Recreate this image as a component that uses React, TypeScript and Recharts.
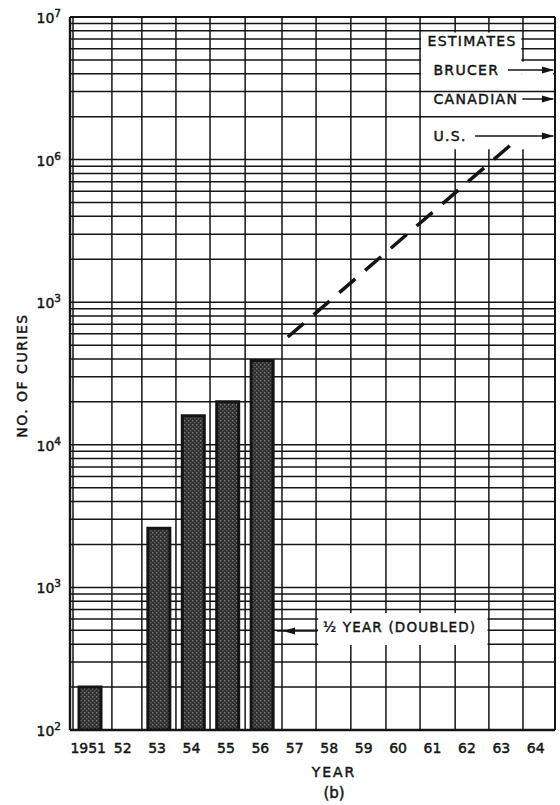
import React from 'react';
import {
  ComposedChart,
  Bar,
  Line,
  XAxis,
  YAxis,
  CartesianGrid,
  ReferenceArea,
  ReferenceLine,
  ReferenceDot,
} from 'recharts';

// ---------- data ----------
const years = ['1951', '52', '53', '54', '55', '56', '57', '58', '59', '60', '61', '62', '63', '64'];
const curies: (number | null)[] = [200, null, 2600, 16000, 20000, 39000, null, null, null, null, null, null, null, null];

// U.S. estimate (dashed line), x in fractional years
const usEstimateYears = [1956.74, 1963.25];
const usEstimateCuries = [57000, 1290000];

// Y axis ticks and printed labels (the original prints "10³" at the 10⁵ position)
const yTickValues = [1e2, 1e3, 1e4, 1e5, 1e6, 1e7];
const yTickExponents = ['2', '3', '4', '3', '6', '7'];

// vertical ruling of the graph paper (fractional years)
const gridYears = [1950.5, 1951.63, 1952.5, 1953.49, 1954.48, 1955.5, 1956.57, 1957.56, 1958.57, 1959.59, 1960.58, 1961.6, 1962.58, 1963.57, 1964.5];

// log-paper horizontal ruling: 1..9 in every decade
const minorTicks: number[] = [];
for (let d = 2; d < 7; d++) {
  for (let k = 1; k <= 9; k++) minorTicks.push(k * Math.pow(10, d));
}
minorTicks.push(1e7);

const barData = years.map((y, i) => ({ year: y, curies: curies[i] }));
const usData = usEstimateYears.map((x, i) => ({ x, v: usEstimateCuries[i] }));

// ---------- styling ----------
const FONT = '"DejaVu Sans", sans-serif';
const INK = '#141414';
const TXT = { fontFamily: FONT, fill: INK, stroke: INK, strokeWidth: 0.45 };

const XTick = (props: any) => {
  const { x, y, payload } = props;
  return (
    <text x={x - 2} y={y + 23} textAnchor="middle" fontSize={14} {...TXT}>
      {payload.value}
    </text>
  );
};

const YTick = (props: any) => {
  const { x, y, payload } = props;
  const idx = yTickValues.indexOf(payload.value);
  const exp = idx >= 0 ? yTickExponents[idx] : '';
  return (
    <text x={x - 9} y={y + 6} textAnchor="end" fontSize={14} {...TXT}>
      <tspan>10</tspan>
      <tspan dy={-6} fontSize={10.5}>{exp}</tspan>
    </text>
  );
};

const YLabel = (props: any) => {
  const vb = props.viewBox || { x: 0, y: 17, width: 70, height: 713 };
  const cx = vb.x + 22;
  const cy = vb.y + vb.height / 2 + 2;
  return (
    <text
      x={cx}
      y={cy}
      transform={`rotate(-90, ${cx}, ${cy})`}
      textAnchor="middle"
      dominantBaseline="central"
      fontSize={14}
      letterSpacing={1.5}
      {...TXT}
    >
      NO. OF CURIES
    </text>
  );
};

const XLabel = (props: any) => {
  const vb = props.viewBox || { x: 70, y: 730, width: 485, height: 75 };
  const cx = vb.x + 264;
  return (
    <g>
      <text x={cx} y={vb.y + 47} textAnchor="middle" fontSize={14} letterSpacing={2} {...TXT}>
        YEAR
      </text>
      <text x={cx} y={vb.y + 68} textAnchor="middle" fontSize={15} {...TXT}>
        (b)
      </text>
    </g>
  );
};

const textShape = (label: string, size = 14, spacing = 1.2) => (p: any) => (
  <text x={p.cx} y={p.cy} dominantBaseline="central" fontSize={size} letterSpacing={spacing} {...TXT}>
    {label}
  </text>
);

const arrowRight = (p: any) => (
  <polygon points={`${p.cx},${p.cy} ${p.cx - 12},${p.cy - 3.5} ${p.cx - 12},${p.cy + 3.5}`} fill={INK} />
);
const arrowLeft = (p: any) => (
  <polygon points={`${p.cx},${p.cy} ${p.cx + 12},${p.cy - 3.5} ${p.cx + 12},${p.cy + 3.5}`} fill={INK} />
);

export default function App() {
  return (
    <div style={{ position: 'absolute', left: 0, top: 0, width: 560, height: 805, background: '#fff' }}>
      <ComposedChart
        width={560}
        height={805}
        data={barData}
        margin={{ top: 17, right: 5, bottom: 0, left: 0 }}
      >
        <defs>
          <pattern id="stipple" width="4" height="4" patternUnits="userSpaceOnUse">
            <rect width="4" height="4" fill="#303030" />
            <rect x="0" y="0" width="1.4" height="1.4" fill="#7d7d7d" />
            <rect x="2" y="2" width="1.4" height="1.4" fill="#606060" />
          </pattern>
        </defs>

        <XAxis
          xAxisId="cat"
          dataKey="year"
          type="category"
          height={75}
          interval={0}
          tickLine={false}
          tickSize={0}
          tickMargin={0}
          axisLine={{ stroke: INK, strokeWidth: 2.4 }}
          tick={(p: any) => <XTick {...p} />}
          padding={{ left: 3, right: 0 }}
          label={{ content: (p: any) => <XLabel {...p} /> }}
        />
        <XAxis
          xAxisId="num"
          dataKey="x"
          type="number"
          domain={[1950.5, 1964.5]}
          allowDataOverflow
          ticks={gridYears}
          interval={0}
          padding={{ left: 3, right: 0 }}
          hide
        />
        <YAxis
          yAxisId="log"
          type="number"
          scale="log"
          domain={[100, 1e7]}
          allowDataOverflow
          ticks={yTickValues}
          interval={0}
          width={70}
          tickLine={false}
          tickSize={0}
          tickMargin={0}
          axisLine={{ stroke: INK, strokeWidth: 2.4 }}
          tick={(p: any) => <YTick {...p} />}
          label={{ content: (p: any) => <YLabel {...p} /> }}
        />
        <YAxis
          yAxisId="minor"
          type="number"
          scale="log"
          domain={[100, 1e7]}
          allowDataOverflow
          ticks={minorTicks}
          interval={0}
          hide
        />

        <CartesianGrid xAxisId="num" yAxisId="minor" stroke={INK} strokeWidth={1.5} />

        {/* frame */}
        <ReferenceLine xAxisId="num" yAxisId="log" y={1e7} stroke={INK} strokeWidth={2} />
        <ReferenceLine xAxisId="num" yAxisId="log" x={1964.5} stroke={INK} strokeWidth={2} />

        {/* legend white-out */}
        <ReferenceArea xAxisId="num" yAxisId="log" x1={1960.61} x2={1963.52} y1={1.18e6} y2={7.8e6} fill="#fff" fillOpacity={1} stroke="none" />
        <ReferenceArea xAxisId="num" yAxisId="log" x1={1963.52} x2={1964.45} y1={1.18e6} y2={4.85e6} fill="#fff" fillOpacity={1} stroke="none" />
        <ReferenceLine xAxisId="num" yAxisId="log" segment={[{ x: 1960.58, y: 2e6 }, { x: 1964.5, y: 2e6 }]} stroke={INK} strokeWidth={1.5} />
        <ReferenceLine xAxisId="num" yAxisId="log" segment={[{ x: 1960.58, y: 3e6 }, { x: 1964.5, y: 3e6 }]} stroke={INK} strokeWidth={1.5} />

        {/* half-year annotation white-out */}
        <ReferenceArea xAxisId="num" yAxisId="log" x1={1957.62} x2={1962.54} y1={395} y2={661} fill="#fff" fillOpacity={1} stroke="none" />

        <Bar
          xAxisId="cat"
          yAxisId="log"
          dataKey="curies"
          barSize={22}
          fill="url(#stipple)"
          stroke={INK}
          strokeWidth={3}
          isAnimationActive={false}
        />

        <Line
          xAxisId="num"
          yAxisId="log"
          data={usData}
          dataKey="v"
          stroke={INK}
          strokeWidth={3.5}
          strokeDasharray="21 13"
          dot={false}
          activeDot={false}
          isAnimationActive={false}
        />

        {/* legend texts and arrows */}
        <ReferenceDot xAxisId="num" yAxisId="log" x={1960.8} y={6.79e6} r={0} shape={textShape('ESTIMATES', 14, 1.3)} />
        <ReferenceDot xAxisId="num" yAxisId="log" x={1960.97} y={4.25e6} r={0} shape={textShape('BRUCER', 14, 1.3)} />
        <ReferenceDot xAxisId="num" yAxisId="log" x={1960.97} y={2.66e6} r={0} shape={textShape('CANADIAN', 14, 1.3)} />
        <ReferenceDot xAxisId="num" yAxisId="log" x={1960.97} y={1.464e6} r={0} shape={textShape('U.S.', 14, 1.3)} />

        <ReferenceLine xAxisId="num" yAxisId="log" segment={[{ x: 1963.13, y: 4.25e6 }, { x: 1964.45, y: 4.25e6 }]} stroke={INK} strokeWidth={1.5} />
        <ReferenceLine xAxisId="num" yAxisId="log" segment={[{ x: 1963.55, y: 2.66e6 }, { x: 1964.45, y: 2.66e6 }]} stroke={INK} strokeWidth={1.5} />
        <ReferenceLine xAxisId="num" yAxisId="log" segment={[{ x: 1962.18, y: 1.464e6 }, { x: 1964.45, y: 1.464e6 }]} stroke={INK} strokeWidth={1.5} />
        <ReferenceDot xAxisId="num" yAxisId="log" x={1964.47} y={4.25e6} r={0} shape={arrowRight} />
        <ReferenceDot xAxisId="num" yAxisId="log" x={1964.47} y={2.66e6} r={0} shape={arrowRight} />
        <ReferenceDot xAxisId="num" yAxisId="log" x={1964.47} y={1.464e6} r={0} shape={arrowRight} />

        {/* half-year note */}
        <ReferenceLine xAxisId="num" yAxisId="log" segment={[{ x: 1956.42, y: 494 }, { x: 1957.6, y: 494 }]} stroke={INK} strokeWidth={1.5} />
        <ReferenceDot xAxisId="num" yAxisId="log" x={1956.6} y={494} r={0} shape={arrowLeft} />
        <ReferenceDot xAxisId="num" yAxisId="log" x={1957.76} y={527} r={0} shape={textShape('½ YEAR (DOUBLED)', 13.5, 1.2)} />
      </ComposedChart>
    </div>
  );
}
